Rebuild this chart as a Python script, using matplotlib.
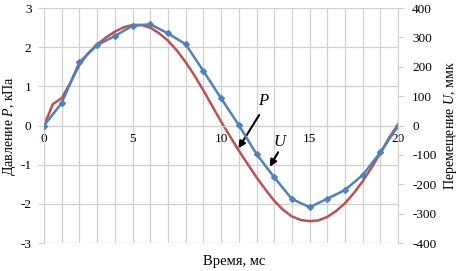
import matplotlib.pyplot as plt
import numpy as np

plt.rcParams['font.family'] = 'Liberation Serif'
plt.rcParams['mathtext.fontset'] = 'custom'
plt.rcParams['mathtext.it'] = 'Liberation Serif:italic'
plt.rcParams['mathtext.rm'] = 'Liberation Serif'

# pressure P, kPa (red curve)
t_p = np.arange(0, 20.5, 0.5)
p_kpa = [0.0, 0.55, 0.7, 1.1, 1.55, 1.85, 2.07, 2.25, 2.4, 2.51, 2.57,
         2.57, 2.5, 2.36, 2.17, 1.92, 1.62, 1.28, 0.9, 0.5, 0.1,
         -0.27, -0.64, -0.98, -1.32, -1.63, -1.92, -2.15, -2.32, -2.41, -2.44,
         -2.42, -2.33, -2.18, -1.98, -1.72, -1.42, -1.07, -0.7, -0.3, 0.03]

# displacement U, um (blue curve with markers)
t_u = np.arange(0, 21, 1)
u_um = [0, 77, 216, 274, 305, 340, 345, 314, 277, 186, 93,
        2, -97, -176, -250, -278, -249, -219, -168, -91, 0]

red = '#C0504D'
blue = '#4F81BD'
grid_c = '#D0D0D0'

fig = plt.figure(figsize=(4.63, 2.71), dpi=100)
ax = fig.add_axes([0.095, 0.103, 0.765, 0.867])
ax2 = ax.twinx()

ax.plot(t_p, p_kpa, color=red, lw=1.8)
ax2.plot(t_u, u_um, color=blue, lw=1.8, marker='D', ms=3)

ax.set_xlim(0, 20)
ax.set_ylim(-3, 3)
ax2.set_ylim(-400, 400)
ax.set_xticks(range(0, 21, 5))
ax.set_xticks(range(0, 21), minor=True)
ax.set_yticks(range(-3, 4))
ax2.set_yticks(range(-400, 401, 100))

ax.grid(True, which='both', axis='x', color=grid_c, lw=0.9)
ax.grid(True, axis='y', color=grid_c, lw=0.9)
ax.set_axisbelow(True)

for s in ['top', 'right']:
    ax.spines[s].set_visible(False)
for s in ['top', 'left', 'bottom']:
    ax2.spines[s].set_visible(False)
ax2.spines['right'].set_color(grid_c)
ax.spines['left'].set_color(grid_c)
ax.spines['bottom'].set_position(('data', 0))
ax.spines['bottom'].set_color(grid_c)

ax.tick_params(axis='x', which='both', length=0, labelsize=9.5, pad=5)
ax.tick_params(axis='y', length=4, color=grid_c, labelsize=9.5, pad=5)
ax2.tick_params(axis='y', length=4, color=grid_c, labelsize=9.5, pad=6)
ax.set_yticklabels([str(v) for v in range(-3, 4)])
ax2.set_yticklabels([str(v) for v in range(-400, 401, 100)])

ax.set_ylabel('Давление $P$, кПа', fontsize=10, labelpad=2)
ax2.set_ylabel('Перемещение $U$, ммк', fontsize=10, labelpad=4)
fig.text(0.505, 0.012, 'Время, мс', ha='center', va='bottom', fontsize=10.5)

arrow = dict(arrowstyle='-|>', color='black', lw=1.5,
             mutation_scale=10, shrinkA=0, shrinkB=0)
ax.text(12.4, 0.62, '$P$', fontsize=12, ha='center', va='center')
ax.annotate('', xy=(10.98, -0.58), xytext=(12.15, 0.27), arrowprops=arrow)
ax.text(13.35, -0.42, '$U$', fontsize=12, ha='center', va='center')
ax.annotate('', xy=(12.75, -1.05), xytext=(13.22, -0.68), arrowprops=arrow)

fig.savefig('out.png', dpi=100)
